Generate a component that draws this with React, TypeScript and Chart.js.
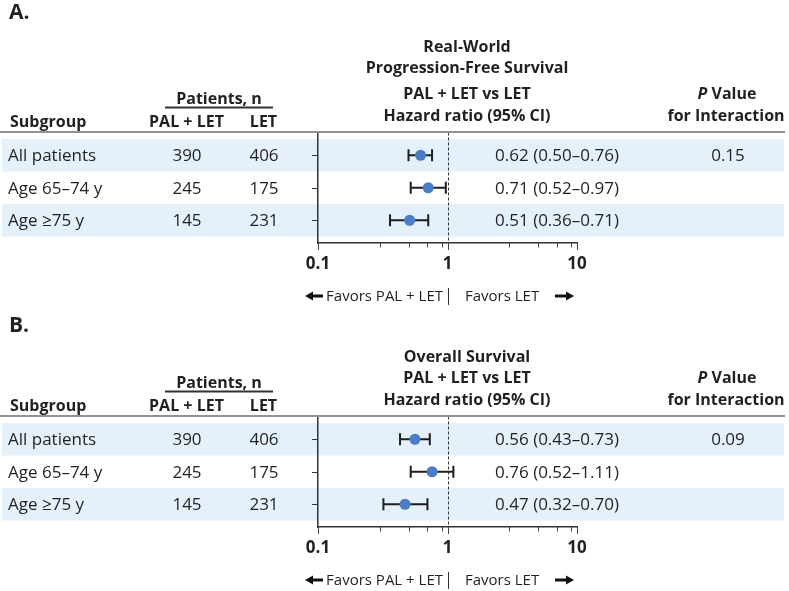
import React, { useEffect, useRef } from 'react';
import { Chart, registerables } from 'chart.js';

Chart.register(...registerables);

// ---- Data ----
const subgroups = ['All patients', 'Age 65–74 y', 'Age ≥75 y'];
const palLetN = [390, 245, 145];
const letN = [406, 175, 231];

const pfsHR = [0.62, 0.71, 0.51];
const pfsLow = [0.5, 0.52, 0.36];
const pfsHigh = [0.76, 0.97, 0.71];
const pfsPInteraction = ['0.15', '', ''];

const osHR = [0.56, 0.76, 0.47];
const osLow = [0.43, 0.52, 0.32];
const osHigh = [0.73, 1.11, 0.7];
const osPInteraction = ['0.09', '', ''];

const axisTicks = [0.1, 1, 10];
const minorTicks = [0.3, 0.5, 0.7, 0.9, 3, 5, 7, 9];

const pfsTitle = ['Real-World', 'Progression-Free Survival', 'PAL + LET vs LET', 'Hazard ratio (95% CI)'];
const osTitle = ['Overall Survival', 'PAL + LET vs LET', 'Hazard ratio (95% CI)'];

// ---- Styles ----
const FAMILY = '"Open Sans", "Noto Sans", sans-serif';
const TEXT = '#231f20';
const BAND = '#e4f1fb';
const DOT = '#4a7dc5';
const W = 789;
const H = 307;

type Panel = {
  label: string;
  labelBaseline: number;
  title: string[];
  titleBaselines: number[];
  hr: number[];
  low: number[];
  high: number[];
  p: string[];
};

const panels: Panel[] = [
  {
    label: 'A.',
    labelBaseline: 19,
    title: pfsTitle,
    titleBaselines: [51.5, 73, 99, 121],
    hr: pfsHR,
    low: pfsLow,
    high: pfsHigh,
    p: pfsPInteraction,
  },
  {
    label: 'B.',
    labelBaseline: 47.5,
    title: osTitle,
    titleBaselines: [77.5, 98.5, 120.5],
    hr: osHR,
    low: osLow,
    high: osHigh,
    p: osPInteraction,
  },
];

const fmt = (v: number) => v.toFixed(2);

function drawText(ctx: CanvasRenderingContext2D, s: string, x: number, y: number, align: CanvasTextAlign, font: string) {
  ctx.font = font;
  ctx.textAlign = align;
  ctx.textBaseline = 'alphabetic';
  ctx.fillStyle = TEXT;
  ctx.fillText(s, x, y);
}

function drawArrow(ctx: CanvasRenderingContext2D, tail: number, tip: number, y: number) {
  const dir = tip > tail ? 1 : -1;
  const headLen = 8;
  ctx.save();
  ctx.strokeStyle = '#111';
  ctx.fillStyle = '#111';
  ctx.lineWidth = 3;
  ctx.beginPath();
  ctx.moveTo(tail, y);
  ctx.lineTo(tip - dir * (headLen - 1), y);
  ctx.stroke();
  ctx.beginPath();
  ctx.moveTo(tip, y);
  ctx.lineTo(tip - dir * headLen, y - 4.5);
  ctx.lineTo(tip - dir * headLen, y + 4.5);
  ctx.closePath();
  ctx.fill();
  ctx.restore();
}

function makePlugin(panel: Panel) {
  return {
    id: 'forest',
    beforeDraw(chart: any) {
      const ctx: CanvasRenderingContext2D = chart.ctx;
      const y = chart.scales.y;
      ctx.save();
      ctx.fillStyle = BAND;
      [0, 2].forEach((r) => {
        const t = y.getPixelForValue(r - 0.5);
        const b = y.getPixelForValue(r + 0.5);
        ctx.fillRect(2, t, 782, b - t);
      });
      ctx.restore();
    },
    beforeDatasetsDraw(chart: any) {
      const ctx: CanvasRenderingContext2D = chart.ctx;
      const x = chart.scales.x;
      const y = chart.scales.y;
      const area = chart.chartArea;
      ctx.save();
      // bottom ticks
      ctx.strokeStyle = '#444';
      ctx.lineWidth = 1;
      axisTicks.forEach((v) => {
        const px = Math.round(x.getPixelForValue(v)) + 0.5;
        ctx.beginPath();
        ctx.moveTo(px, area.bottom);
        ctx.lineTo(px, area.bottom + 7);
        ctx.stroke();
      });
      minorTicks.forEach((v) => {
        const px = Math.round(x.getPixelForValue(v)) + 0.5;
        ctx.beginPath();
        ctx.moveTo(px, area.bottom);
        ctx.lineTo(px, area.bottom + 4.5);
        ctx.stroke();
      });
      // left ticks at rows
      ctx.strokeStyle = '#333';
      panel.hr.forEach((_, i) => {
        const py = Math.round(y.getPixelForValue(i)) + 0.5;
        ctx.beginPath();
        ctx.moveTo(area.left - 6, py);
        ctx.lineTo(area.left, py);
        ctx.stroke();
      });
      // reference dashed line at HR = 1
      const one = Math.round(x.getPixelForValue(1)) + 0.5;
      ctx.setLineDash([3, 2]);
      ctx.strokeStyle = '#333';
      ctx.beginPath();
      ctx.moveTo(one, area.top);
      ctx.lineTo(one, area.bottom);
      ctx.stroke();
      ctx.setLineDash([]);
      // error bars
      ctx.strokeStyle = '#1e1e1e';
      ctx.lineWidth = 2;
      panel.hr.forEach((_, i) => {
        const py = y.getPixelForValue(i);
        const lo = x.getPixelForValue(panel.low[i]);
        const hi = x.getPixelForValue(panel.high[i]);
        ctx.beginPath();
        ctx.moveTo(lo, py);
        ctx.lineTo(hi, py);
        ctx.moveTo(lo, py - 6);
        ctx.lineTo(lo, py + 6);
        ctx.moveTo(hi, py - 6);
        ctx.lineTo(hi, py + 6);
        ctx.stroke();
      });
      ctx.restore();
    },
    afterDraw(chart: any) {
      const ctx: CanvasRenderingContext2D = chart.ctx;
      const x = chart.scales.x;
      const y = chart.scales.y;
      const bold = (s: number) => `bold ${s}px ${FAMILY}`;
      const reg = (s: number) => `${s}px ${FAMILY}`;
      ctx.save();
      // panel label
      drawText(ctx, panel.label, 9, panel.labelBaseline, 'left', bold(21));
      // center title
      const cx = 467;
      panel.title.forEach((t, i) => drawText(ctx, t, cx, panel.titleBaselines[i], 'center', bold(16)));
      // left header
      drawText(ctx, 'Subgroup', 10, 127, 'left', bold(16));
      drawText(ctx, 'PAL + LET', 186.5, 127, 'center', bold(16));
      drawText(ctx, 'LET', 263.5, 127, 'center', bold(16));
      drawText(ctx, 'Patients, n', 219, 103.5, 'center', bold(16));
      ctx.fillStyle = '#333';
      ctx.fillRect(165, 106.5, 108, 2);
      // P value header
      ctx.font = `italic bold 16px ${FAMILY}`;
      const pw = ctx.measureText('P').width;
      ctx.font = bold(16);
      const vw = ctx.measureText(' Value').width;
      const px0 = 727 - (pw + vw) / 2;
      ctx.fillStyle = TEXT;
      ctx.textAlign = 'left';
      ctx.font = `italic bold 16px ${FAMILY}`;
      ctx.fillText('P', px0, 99);
      ctx.font = bold(16);
      ctx.fillText(' Value', px0 + pw, 99);
      drawText(ctx, 'for Interaction', 726, 121, 'center', bold(16));
      // header rule
      ctx.fillStyle = '#929292';
      ctx.fillRect(0, 131, 785, 2);
      // rows
      panel.hr.forEach((hr, i) => {
        const py = y.getPixelForValue(i) + 6;
        drawText(ctx, subgroups[i], 8, py, 'left', reg(17));
        drawText(ctx, String(palLetN[i]), 187, py, 'center', reg(17));
        drawText(ctx, String(letN[i]), 264, py, 'center', reg(17));
        drawText(ctx, `${fmt(hr)} (${fmt(panel.low[i])}–${fmt(panel.high[i])})`, 557, py, 'center', reg(17));
        if (panel.p[i]) drawText(ctx, panel.p[i], 728, py, 'center', reg(17));
      });
      // favors annotation
      const one = Math.round(x.getPixelForValue(1)) + 0.5;
      const fy = 300.5;
      drawArrow(ctx, 323, 305, 296);
      drawText(ctx, 'Favors PAL + LET', 443, fy, 'right', reg(15));
      ctx.strokeStyle = '#333';
      ctx.lineWidth = 1;
      ctx.beginPath();
      ctx.moveTo(one, 288);
      ctx.lineTo(one, 305);
      ctx.stroke();
      drawText(ctx, 'Favors LET', 465, fy, 'left', reg(15));
      drawArrow(ctx, 555, 574, 296);
      ctx.restore();
    },
  };
}

function ForestPanel({ panel, top }: { panel: Panel; top: number }) {
  const ref = useRef<HTMLCanvasElement | null>(null);
  useEffect(() => {
    if (!ref.current) return;
    const chart = new Chart(ref.current, {
      type: 'scatter',
      data: {
        datasets: [
          {
            data: panel.hr.map((v, i) => ({ x: v, y: i })),
            pointRadius: 5.5,
            pointHoverRadius: 5.5,
            backgroundColor: DOT,
            borderWidth: 0,
          },
        ],
      },
      options: {
        animation: false,
        responsive: false,
        events: [],
        layout: { padding: { left: 318, right: W - 577, top: 132.5, bottom: 21.6 } },
        scales: {
          x: {
            type: 'logarithmic',
            min: 0.1,
            max: 10,
            position: 'bottom',
            grid: { display: false, drawTicks: false },
            border: { display: true, color: '#333', width: 1.5 },
            afterBuildTicks: (s: any) => {
              s.ticks = axisTicks.map((v) => ({ value: v, major: true }));
            },
            ticks: {
              autoSkip: false,
              maxRotation: 0,
              padding: 11,
              color: TEXT,
              font: { family: FAMILY, size: 17, weight: 'bold' },
              callback: (v: any) => String(v),
            },
          },
          y: {
            type: 'linear',
            min: -0.7,
            max: 2.7,
            reverse: true,
            grid: { display: false, drawTicks: false },
            border: { display: true, color: '#333', width: 1.5 },
            ticks: { display: false },
          },
        },
        plugins: { legend: { display: false }, tooltip: { enabled: false } },
      } as any,
      plugins: [makePlugin(panel)],
    });
    return () => chart.destroy();
  }, [panel]);
  return (
    <canvas
      ref={ref}
      width={W}
      height={H}
      style={{ position: 'absolute', left: 0, top, width: W, height: H, display: 'block' }}
    />
  );
}

export default function App() {
  return (
    <div style={{ position: 'fixed', left: 0, top: 0, width: W, height: 591, background: '#fff' }}>
      <ForestPanel panel={panels[0]} top={0} />
      <ForestPanel panel={panels[1]} top={284} />
    </div>
  );
}
